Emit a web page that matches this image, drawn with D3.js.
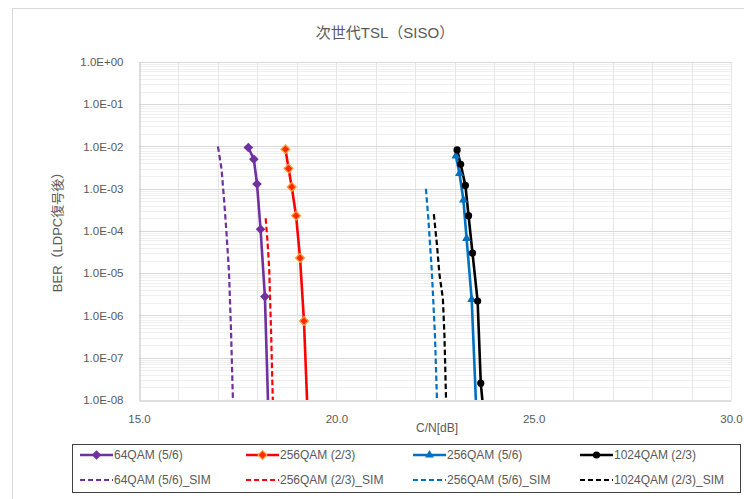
<!DOCTYPE html>
<html>
<head>
<meta charset="utf-8">
<script src="https://cdn.jsdelivr.net/npm/d3@7"></script>
<style>
  html, body { margin: 0; padding: 0; background: #fff; }
  svg { display: block; font-family: "Liberation Sans", "Noto Sans CJK JP", sans-serif; }
</style>
</head>
<body>
<svg id="chart" width="744" height="499"></svg>
<script>
// Measured BER curves (C/N in dB)
const qam64Cn   = [17.77, 17.91, 17.99, 18.08, 18.19, 18.30];
const qam64Ber  = [9.5e-3, 5.0e-3, 1.3e-3, 1.1e-4, 2.8e-6, 1e-9];
const qam256aCn  = [18.71, 18.79, 18.87, 18.98, 19.08, 19.18, 19.30];
const qam256aBer = [8.6e-3, 3.0e-3, 1.1e-3, 2.3e-4, 2.3e-5, 7.4e-7, 1e-9];
const qam256bCn  = [23.03, 23.12, 23.22, 23.30, 23.43, 23.58];
const qam256bBer = [6.0e-3, 2.3e-3, 5.4e-4, 6.7e-5, 2.4e-6, 1e-9];
const qam1024Cn  = [23.06, 23.15, 23.27, 23.35, 23.45, 23.58, 23.66, 23.80];
const qam1024Ber = [8.3e-3, 3.8e-3, 1.2e-3, 2.3e-4, 3.0e-5, 2.2e-6, 2.5e-8, 1e-9];

// Simulation curves
const sim64Cn    = [17.00, 17.09, 17.16, 17.22, 17.28, 17.33, 17.38];
const sim64Ber   = [1e-2, 3.0e-3, 4.9e-4, 8.1e-5, 1.1e-5, 5e-7, 1e-8];
const sim256aCn  = [18.21, 18.26, 18.30, 18.35, 18.39];
const sim256aBer = [2e-4, 5e-5, 1.2e-5, 3.2e-7, 1e-8];
const sim256bCn  = [22.27, 22.33, 22.42, 22.50, 22.55];
const sim256bBer = [1e-3, 2e-4, 1.1e-5, 3.2e-7, 1e-8];
const sim1024Cn  = [22.47, 22.55, 22.61, 22.70, 22.74, 22.78];
const sim1024Ber = [2.5e-4, 4.7e-5, 1e-5, 2.5e-6, 3.2e-7, 1e-8];

const seriesNames = [
  "64QAM (5/6)", "256QAM (2/3)", "256QAM (5/6)", "1024QAM (2/3)",
  "64QAM (5/6)_SIM", "256QAM (2/3)_SIM", "256QAM (5/6)_SIM", "1024QAM (2/3)_SIM"
];
const xTicks = [15, 20, 25, 30];
const yTicks = [1, 1e-1, 1e-2, 1e-3, 1e-4, 1e-5, 1e-6, 1e-7, 1e-8];

const titleText = "次世代TSL（SISO）";
const xTitle = "C/N[dB]";
const yTitle = "BER（LDPC復号後）";

const colors = ["#7030a0", "#ff0000", "#0070c0", "#000000"];
const markers = ["diamond", "diamondRed", "triangle", "circle"];

const series = [
  { name: seriesNames[0], cn: qam64Cn, ber: qam64Ber, color: colors[0], dashed: false, marker: markers[0] },
  { name: seriesNames[1], cn: qam256aCn, ber: qam256aBer, color: colors[1], dashed: false, marker: markers[1] },
  { name: seriesNames[2], cn: qam256bCn, ber: qam256bBer, color: colors[2], dashed: false, marker: markers[2] },
  { name: seriesNames[3], cn: qam1024Cn, ber: qam1024Ber, color: colors[3], dashed: false, marker: markers[3] },
  { name: seriesNames[4], cn: sim64Cn, ber: sim64Ber, color: colors[0], dashed: true },
  { name: seriesNames[5], cn: sim256aCn, ber: sim256aBer, color: colors[1], dashed: true },
  { name: seriesNames[6], cn: sim256bCn, ber: sim256bBer, color: colors[2], dashed: true },
  { name: seriesNames[7], cn: sim1024Cn, ber: sim1024Ber, color: colors[3], dashed: true }
];

const svg = d3.select("#chart");
const plot = { left: 139, right: 731, top: 62, bottom: 400 };

const x = d3.scaleLinear().domain([15, 30]).range([plot.left, plot.right]);
const y = d3.scaleLog().domain([1e-8, 1]).range([plot.bottom, plot.top]);

// chart area frame
svg.append("rect").attr("x", 12.5).attr("y", 8.5).attr("width", 800).attr("height", 600)
  .attr("fill", "#fff").attr("stroke", "#d9d9d9");

svg.append("defs").append("clipPath").attr("id", "plotClip")
  .append("rect").attr("x", plot.left).attr("y", plot.top - 6)
  .attr("width", plot.right - plot.left + 6).attr("height", plot.bottom - plot.top + 6);

// minor horizontal grid
const minorVals = [];
for (let e = -8; e < 0; e++) for (let m = 2; m <= 9; m++) minorVals.push(m * Math.pow(10, e));
svg.append("g").selectAll("line").data(minorVals).join("line")
  .attr("x1", plot.left).attr("x2", plot.right)
  .attr("y1", d => Math.round(y(d)) + 0.5).attr("y2", d => Math.round(y(d)) + 0.5)
  .attr("stroke", "#f0f0f0").attr("stroke-width", 1);

// vertical grid every 1 dB
svg.append("g").selectAll("line").data(d3.range(16, 31)).join("line")
  .attr("x1", d => Math.round(x(d)) + 0.5).attr("x2", d => Math.round(x(d)) + 0.5)
  .attr("y1", plot.top).attr("y2", plot.bottom)
  .attr("stroke", "#e6e6e6").attr("stroke-width", 1);

// major horizontal grid
svg.append("g").selectAll("line").data(yTicks.slice(0, -1)).join("line")
  .attr("x1", plot.left).attr("x2", plot.right)
  .attr("y1", d => Math.round(y(d)) + 0.5).attr("y2", d => Math.round(y(d)) + 0.5)
  .attr("stroke", "#d9d9d9").attr("stroke-width", 1);

// axes
const fmtE = d => {
  const e = Math.round(Math.log10(d));
  return "1.0E" + (e >= 0 ? "+" : "-") + String(Math.abs(e)).padStart(2, "0");
};
const yAxis = svg.append("g").attr("transform", `translate(${plot.left + 0.5},0)`)
  .call(d3.axisLeft(y).tickValues(yTicks).tickFormat(fmtE).tickSize(0).tickPadding(16));
yAxis.select(".domain").attr("stroke", "#bfbfbf");
yAxis.selectAll("text").attr("fill", "#595959").attr("font-size", 11.5);

const xAxis = svg.append("g").attr("transform", `translate(0,${plot.bottom + 0.5})`)
  .call(d3.axisBottom(x).tickValues(xTicks).tickFormat(d3.format(".1f")).tickSize(0).tickPadding(14));
xAxis.select(".domain").attr("stroke", "#bfbfbf");
xAxis.selectAll("text").attr("fill", "#595959").attr("font-size", 11.5);

// series lines
const line = d3.line().x(d => x(d[0])).y(d => y(d[1]));
const g = svg.append("g").attr("clip-path", "url(#plotClip)");

series.forEach(s => {
  const pts = s.cn.map((c, i) => [c, s.ber[i]]);
  g.append("path").datum(pts).attr("d", line)
    .attr("fill", "none").attr("stroke", s.color)
    .attr("stroke-width", s.dashed ? 2.2 : 2.6)
    .attr("stroke-dasharray", s.dashed ? "5.5,3" : null)
    .attr("stroke-linejoin", "round");
});

function drawMarker(sel, kind, color, cx, cy) {
  if (kind === "circle") {
    sel.append("circle").attr("cx", cx).attr("cy", cy).attr("r", 3.6).attr("fill", color);
  } else if (kind === "triangle") {
    sel.append("path").attr("transform", `translate(${cx},${cy})`)
      .attr("d", d3.symbol(d3.symbolTriangle, 34)()).attr("fill", color);
  } else if (kind === "diamondRed") {
    sel.append("path").attr("transform", `translate(${cx},${cy})`)
      .attr("d", "M0,-4.5L4.5,0L0,4.5L-4.5,0Z").attr("fill", "#ff2a00")
      .attr("stroke", "#ffa040").attr("stroke-width", 1.2);
  } else {
    sel.append("path").attr("transform", `translate(${cx},${cy})`)
      .attr("d", "M0,-4.8L4.8,0L0,4.8L-4.8,0Z").attr("fill", color);
  }
}

series.filter(s => !s.dashed).forEach(s => {
  const mg = g.append("g");
  s.cn.forEach((c, i) => {
    if (s.ber[i] >= 1e-8) drawMarker(mg, s.marker, s.color, x(c), y(s.ber[i]));
  });
});

// title and axis titles
svg.append("text").attr("x", 385).attr("y", 38).attr("text-anchor", "middle")
  .attr("font-size", 15).attr("fill", "#595959").text(titleText);
svg.append("text").attr("x", 437).attr("y", 432)
  .attr("text-anchor", "middle").attr("font-size", 12).attr("fill", "#595959").text(xTitle);
svg.append("text").attr("transform", `translate(59,${(plot.top + plot.bottom) / 2 - 2}) rotate(-90)`)
  .attr("text-anchor", "middle").attr("dominant-baseline", "middle")
  .attr("font-size", 13).attr("fill", "#595959").text(yTitle);

// legend
const lg = svg.append("g");
lg.append("rect").attr("x", 72.5).attr("y", 444.5).attr("width", 668).attr("height", 48)
  .attr("fill", "#fff").attr("stroke", "#404040").attr("stroke-width", 1);
const colX = [80, 246, 413, 580];
const rowY = [455, 480];
series.forEach((s, i) => {
  const cx = colX[i % 4], cy = rowY[Math.floor(i / 4)];
  lg.append("line").attr("x1", cx).attr("x2", cx + 33).attr("y1", cy).attr("y2", cy)
    .attr("stroke", s.color).attr("stroke-width", s.dashed ? 2.2 : 2.6)
    .attr("stroke-dasharray", s.dashed ? "5,3" : null);
  if (!s.dashed) drawMarker(lg, s.marker, s.color, cx + 16.5, cy);
  lg.append("text").attr("x", cx + 34).attr("y", cy).attr("dominant-baseline", "central")
    .attr("font-size", 12).attr("fill", "#595959").text(s.name);
});
</script>
</body>
</html>
